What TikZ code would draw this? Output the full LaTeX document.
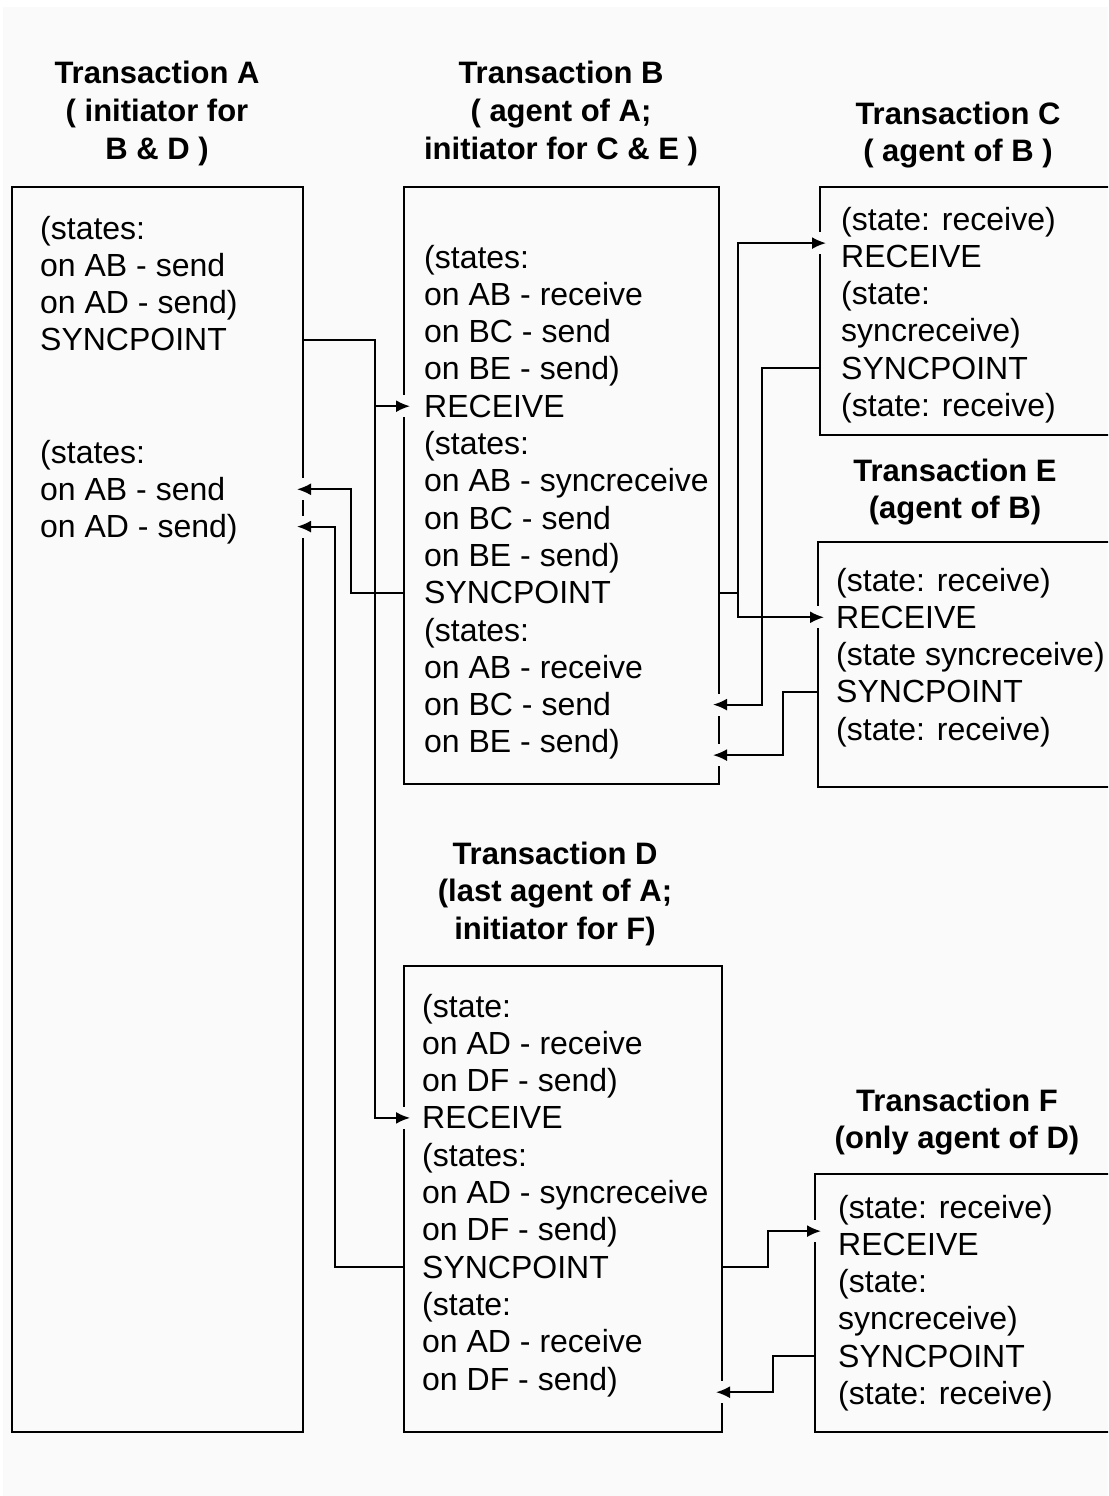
\documentclass[tikz,border=0pt]{standalone}
\usepackage{fontspec}
\setmainfont{Liberation Sans}
\usetikzlibrary{arrows.meta,decorations.markings}
\definecolor{paper}{RGB}{250,250,250}

\begin{document}
\begin{tikzpicture}[x=1pt, y=-1pt,
    box/.style={draw, line width=2.4pt, inner sep=0pt, outer sep=0pt, anchor=north west},
    txt/.style={font=\fontsize{32}{37}\selectfont, inner sep=0pt, text height=24pt, text depth=2pt, anchor=west},
    head/.style={txt, font=\fontsize{31}{37}\selectfont\bfseries, anchor=center},
    flow/.style={line width=2pt, -{Latex[length=14pt,width=12pt]}, shorten >=-6pt,
        decoration={markings, mark=at position 1 with {\fill[paper] (-9pt,-11pt) rectangle (3pt,11pt);}},
        preaction={decorate}}]

    \useasboundingbox (0,0) rectangle (1108,1496);
    \clip (0,0) rectangle (1108,1496);
    \fill[white] (0,0) rectangle (1108,1496);
    \fill[paper] (3,7) rectangle (1108,1496);

    % the six transactions
    \node[box, minimum width=291pt, minimum height=1245pt] (boxA) at (12,187) {};
    \node[box, minimum width=315pt, minimum height=597pt] (boxB) at (404,187) {};
    \node[box, minimum width=300pt, minimum height=248pt] (boxC) at (820,187) {};
    \node[box, minimum width=300pt, minimum height=245pt] (boxE) at (818,542) {};
    \node[box, minimum width=318pt, minimum height=466pt] (boxD) at (404,966) {};
    \node[box, minimum width=300pt, minimum height=258pt] (boxF) at (815,1174) {};

    % titles
    \foreach \t [count=\i] in {{Transaction A}, {( initiator for}, {B \& D )}}
        \node[head] (tA\i) at (157, {73+37.7*(\i-1)}) {\t};
    \foreach \t [count=\i] in {{Transaction B}, {( agent of A;}, {initiator for C \& E )}}
        \node[head] (tB\i) at (561, {73+37.7*(\i-1)}) {\t};
    \foreach \t [count=\i] in {{Transaction C}, {( agent of B )}}
        \node[head] (tC\i) at (958, {113+37.7*(\i-1)}) {\t};
    \foreach \t [count=\i] in {{Transaction E}, {(agent of B)}}
        \node[head] (tE\i) at (955, {470+37.7*(\i-1)}) {\t};
    \foreach \t [count=\i] in {{Transaction D}, {(last agent of A;}, {initiator for F)}}
        \node[head] (tD\i) at (555, {853+37.7*(\i-1)}) {\t};
    \foreach \t [count=\i] in {{Transaction F}, {(only agent of D)}}
        \node[head] (tF\i) at (957, {1100+37.7*(\i-1)}) {\t};

    % box contents
    \foreach \t [count=\i] in {{(states:}, {on AB - send}, {on AD - send)}, SYNCPOINT}
        \node[txt] (a\i) at (40, {228+37.3*(\i-1)}) {\t};
    \foreach \t [count=\i from 5] in {{(states:}, {on AB - send}, {on AD - send)}}
        \node[txt] (a\i) at (40, {452+37.3*(\i-5)}) {\t};
    \foreach \t [count=\i] in {{(states:}, {on AB - receive}, {on BC - send}, {on BE - send)}, RECEIVE,
                               {(states:}, {on AB - syncreceive}, {on BC - send}, {on BE - send)}, SYNCPOINT,
                               {(states:}, {on AB - receive}, {on BC - send}, {on BE - send)}}
        \node[txt] (b\i) at (424, {257+37.3*(\i-1)}) {\t};
    \foreach \t [count=\i] in {{(state: receive)}, RECEIVE, {(state:}, {syncreceive)}, SYNCPOINT, {(state: receive)}}
        \node[txt] (c\i) at (841, {219+37.3*(\i-1)}) {\t};
    \foreach \t [count=\i] in {{(state: receive)}, RECEIVE, {(state syncreceive)}, SYNCPOINT, {(state: receive)}}
        \node[txt] (e\i) at (836, {580+37.3*(\i-1)}) {\t};
    \foreach \t [count=\i] in {{(state:}, {on AD - receive}, {on DF - send)}, RECEIVE,
                               {(states:}, {on AD - syncreceive}, {on DF - send)}, SYNCPOINT,
                               {(state:}, {on AD - receive}, {on DF - send)}}
        \node[txt] (d\i) at (422, {1006+37.3*(\i-1)}) {\t};
    \foreach \t [count=\i] in {{(state: receive)}, RECEIVE, {(state:}, {syncreceive)}, SYNCPOINT, {(state: receive)}}
        \node[txt] (f\i) at (838, {1207+37.3*(\i-1)}) {\t};

    % syncpoint flows
    \draw[flow] (a4 -| boxA.east) -- ++(72,0) |- (b5 -| boxB.west);
    \draw[flow] (a4 -| boxA.east) -- ++(72,0) |- (d4 -| boxD.west);
    \draw[flow] (b10 -| boxB.west) -- ++(-53,0) |- (a6 -| boxA.east);
    \draw[flow] (d8 -| boxD.west) -- ++(-69,0) |- (a7 -| boxA.east);
    \draw[flow] (b10 -| boxB.east) -- ++(19,0) |- (c2.north -| boxC.west);
    \draw[flow] (b10 -| boxB.east) -- ++(19,0) |- (e2 -| boxE.west);
    \draw[flow] (c5 -| boxC.west) -- ++(-58,0) |- (b13 -| boxB.east);
    \draw[flow] (e4 -| boxE.west) -- ++(-35,0) |- (b14.south -| boxB.east);
    \draw[flow] (d8 -| boxD.east) -- ++(46,0) |- (f2.north -| boxF.west);
    \draw[flow] (f5 -| boxF.west) -- ++(-42,0) |- (d11.south -| boxD.east);

\end{tikzpicture}
\end{document}
